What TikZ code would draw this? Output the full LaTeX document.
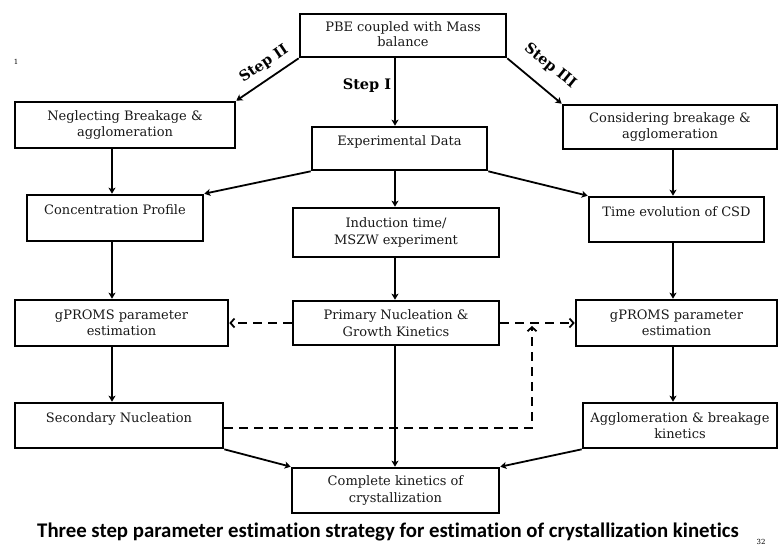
\documentclass[tikz,border=0pt]{standalone}
\usepackage{fontspec}
\setmainfont{DejaVu Serif}
\newfontfamily\capfont[Ligatures=NoCommon]{Carlito}
\usetikzlibrary{arrows.meta}
\begin{document}
\begin{tikzpicture}[x=1pt,y=-1pt,
  box/.style={draw,line width=2.6pt,rectangle,inner sep=0pt,align=center,
    font=\fontsize{13}{16.5}\selectfont,text=black!90},
  arr/.style={line width=1.8pt,-{Stealth[length=6pt,width=7pt,inset=1.5pt]}},
  darr/.style={line width=1.8pt,dash pattern=on 9pt off 6pt,-{Straight Barb[length=4pt,width=9pt]}},
  steplbl/.style={font=\bfseries\fontsize{14.5}{15}\selectfont,inner sep=0pt},
  small/.style={font=\fontsize{7}{8}\selectfont,inner sep=0pt}]
\useasboundingbox (0,0) rectangle (779,547);
\fill[white] (0,0) rectangle (779,547);
% column coordinates
\coordinate (lc) at (112,0);
\coordinate (mc) at (395,0);
\coordinate (rc) at (673,0);
% boxes
\node[box,minimum width=206pt,minimum height=43pt] (pbe) at (403,35.5)
  {\raisebox{-5pt}{\begin{tabular}{@{}c@{}}PBE coupled with Mass\\[-1pt]balance\end{tabular}}};
\node[box,minimum width=220pt,minimum height=46pt] (neg) at (125,125) {Neglecting Breakage \&\\agglomeration};
\node[box,minimum width=175pt,minimum height=43pt] (exp) at (399.5,148.5) {Experimental Data\\\mbox{}};
\node[box,minimum width=214pt,minimum height=44pt] (cons) at (670,127) {Considering breakage \&\\agglomeration};
\node[box,minimum width=176pt,minimum height=46pt] (conc) at (115,218) {Concentration Profile\\\mbox{}};
\node[box,minimum width=206pt,minimum height=49pt] (ind) at (396,232.5) {Induction time/\\MSZW experiment};
\node[box,minimum width=175pt,minimum height=45pt] (time) at (676.5,219.5) {Time evolution of CSD\\\mbox{}};
\node[box,minimum width=213pt,minimum height=46pt] (gpl) at (121.5,323) {gPROMS parameter\\estimation};
\node[box,minimum width=206pt,minimum height=44pt] (prim) at (396,323) {Primary Nucleation \&\\Growth Kinetics};
\node[box,minimum width=201pt,minimum height=46pt] (gpr) at (676.5,323) {gPROMS parameter\\estimation};
\node[box,minimum width=208pt,minimum height=45pt] (sec) at (119,425.5) {Secondary Nucleation\\\mbox{}};
\node[box,minimum width=207pt,minimum height=45pt] (comp) at (395.5,490.5) {Complete kinetics of\\crystallization};
\node[box,minimum width=194pt,minimum height=45pt] (agg) at (680,425.5) {Agglomeration \& breakage\\kinetics};
% solid connectors
\draw[arr] (pbe.south west) -- (neg.north east);
\draw[arr] (pbe.south east) -- (cons.north west);
\draw[arr] (pbe.south -| mc) -- (exp.north -| mc);
\draw[arr] (exp.south west) -- (conc.north east);
\draw[arr] (exp.south east) -- (time.north west);
\draw[arr] (neg.south -| lc) -- (conc.north -| lc);
\draw[arr] (cons.south -| rc) -- (time.north -| rc);
\draw[arr] (exp.south -| mc) -- (ind.north -| mc);
\draw[arr] (ind.south -| mc) -- (prim.north -| mc);
\draw[arr] (conc.south -| lc) -- (gpl.north -| lc);
\draw[arr] (time.south -| rc) -- (gpr.north -| rc);
\draw[arr] (gpl.south -| lc) -- (sec.north -| lc);
\draw[arr] (gpr.south -| rc) -- (agg.north -| rc);
\draw[arr] (prim.south -| mc) -- (comp.north -| mc);
\draw[arr] (sec.south east) -- (comp.north west);
\draw[arr] (agg.south west) -- (comp.north east);
% dashed connectors
\coordinate (dj) at (532,326);
\draw[darr] (prim.west) -- (gpl.east);
\draw[darr] (prim.east) -- (gpr.west);
\draw[darr] ([yshift=-2.5pt]sec.east) -| (dj);
% step labels
\node[steplbl,rotate=34] (s2) at (264,64) {Step II};
\node[steplbl] (s1) at (367,86) {Step I};
\node[steplbl,rotate=-39] (s3) at (550,66) {Step III};
% caption and page numbers
\node[inner sep=0pt,font=\capfont\bfseries\fontsize{20.8}{22}\selectfont] (cap) at (388,532)
  {Three step parameter estimation strategy for estimation of crystallization kinetics};
\node[small] (p1) at (16,62) {1};
\node[small] (p32) at (761,542) {32};
\end{tikzpicture}
\end{document}
